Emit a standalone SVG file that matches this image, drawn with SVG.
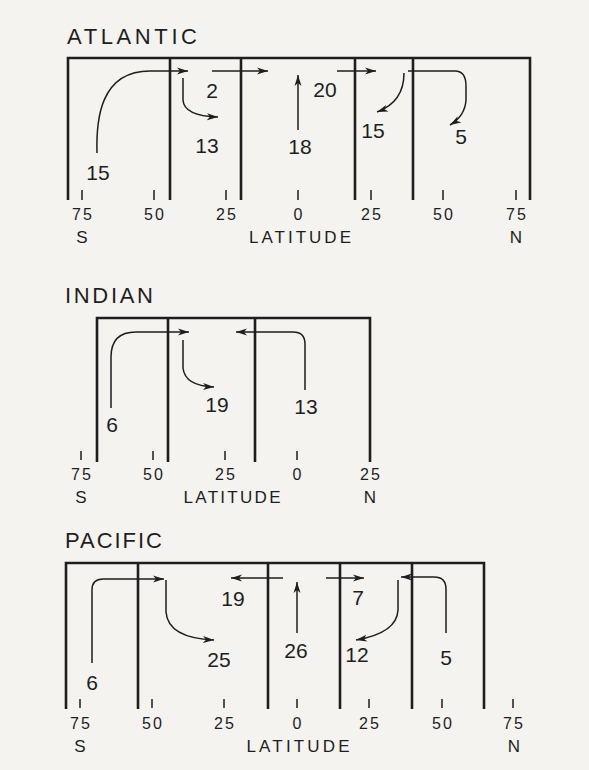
<svg xmlns="http://www.w3.org/2000/svg" width="589" height="770" viewBox="0 0 589 770">
<defs>
<marker id="ah" markerUnits="userSpaceOnUse" markerWidth="14" markerHeight="10" refX="11" refY="4" orient="auto">
<path d="M0,0.5 L11,4 L0,7.5 L3,4 Z" fill="#1e1e1e"/>
</marker>
</defs>
<style>
.bg{fill:#f4f3f0}
.fr{fill:none;stroke:#1e1e1e;stroke-width:2.6}
.tk{fill:none;stroke:#1e1e1e;stroke-width:1.5}
.ar{fill:none;stroke:#1e1e1e;stroke-width:1.5;marker-end:url(#ah)}
text{font-family:"Liberation Sans",Arial,sans-serif;fill:#1e1e1e}
.ti{font-size:22px}
.n{font-size:21px;text-anchor:middle}
.k{font-size:16px;text-anchor:middle;letter-spacing:2px}
.l{font-size:17px;text-anchor:middle}
</style>
<rect class="bg" x="0" y="0" width="589" height="770"/>

<g id="atlantic">
<text class="ti" x="67" y="44" textLength="130" lengthAdjust="spacing">ATLANTIC</text>
<path class="fr" d="M68,200 V58 H530 V200 M170,58 V200 M241,58 V200 M355,58 V200 M413,58 V200"/>
<path class="tk" d="M82,190 V200 M154,190 V200 M226,190 V200 M298,190 V200 M371,190 V200 M443,190 V200 M516,190 V200"/>
<g class="k">
<text x="83" y="220">75</text><text x="155" y="220">50</text><text x="227" y="220">25</text><text x="299" y="220">0</text><text x="372" y="220">25</text><text x="444" y="220">50</text><text x="517" y="220">75</text>
</g>
<text class="l" x="82" y="243">S</text>
<text class="l" x="300" y="243" textLength="102" lengthAdjust="spacing">LATITUDE</text>
<text class="l" x="516" y="243">N</text>
<g class="n">
<text x="98" y="180">15</text><text x="212" y="98">2</text><text x="207" y="153">13</text><text x="325" y="97">20</text><text x="300" y="154">18</text><text x="373" y="138">15</text><text x="461" y="144">5</text>
</g>
</g>

<g id="indian">
<text class="ti" x="65" y="303" textLength="88" lengthAdjust="spacing">INDIAN</text>
<path class="fr" d="M97,462 V318 H370 V462 M168,318 V462 M255,318 V462"/>
<path class="tk" d="M81,451 V460 M153,451 V460 M225,451 V460 M297,451 V460"/>
<g class="k">
<text x="82" y="480">75</text><text x="154" y="480">50</text><text x="226" y="480">25</text><text x="298" y="480">0</text><text x="371" y="480">25</text>
</g>
<text class="l" x="81" y="503">S</text>
<text class="l" x="232" y="503" textLength="97" lengthAdjust="spacing">LATITUDE</text>
<text class="l" x="370" y="503">N</text>
<g class="n">
<text x="112" y="432">6</text><text x="217" y="412">19</text><text x="306" y="414">13</text>
</g>
</g>

<g id="pacific">
<text class="ti" x="65" y="548" textLength="97" lengthAdjust="spacing">PACIFIC</text>
<path class="fr" d="M66,709 V563 H484 V709 M138,563 V709 M268,563 V709 M340,563 V709 M412,563 V709"/>
<path class="tk" d="M80,699 V708 M152,699 V708 M224,699 V708 M297,699 V708 M369,699 V708 M442,699 V708 M513,699 V708"/>
<g class="k">
<text x="81" y="729">75</text><text x="153" y="729">50</text><text x="225" y="729">25</text><text x="298" y="729">0</text><text x="370" y="729">25</text><text x="443" y="729">50</text><text x="514" y="729">75</text>
</g>
<text class="l" x="80" y="752">S</text>
<text class="l" x="298" y="752" textLength="103" lengthAdjust="spacing">LATITUDE</text>
<text class="l" x="514" y="752">N</text>
<g class="n">
<text x="92" y="690">6</text><text x="233" y="606">19</text><text x="358" y="605">7</text><text x="219" y="667">25</text><text x="296" y="658">26</text><text x="357" y="662">12</text><text x="446" y="665">5</text>
</g>
</g>

<g id="connectors">
<path class="ar" d="M97,153 C96,120 100,71 150,71 H188"/>
<path class="ar" d="M183,78 V100 Q184,116 218,117"/>
<path class="ar" d="M212,71 H268"/>
<path class="ar" d="M298,130 V75"/>
<path class="ar" d="M337,71 H376"/>
<path class="ar" d="M404,73 Q404,102 377,112"/>
<path class="ar" d="M408,71 H455 Q466,71 466,86 V100 Q465,116 450,125"/>

<path class="ar" d="M111,408 V357 Q111,332 136,332 H189"/>
<path class="ar" d="M183,340 V368 Q185,386 214,387"/>
<path class="ar" d="M305,390 V344 Q305,332 293,332 H236"/>

<path class="ar" d="M92,663 V590 Q92,579 103,579 H164"/>
<path class="ar" d="M166,580 V612 Q168,638 214,640"/>
<path class="ar" d="M283,578 H231"/>
<path class="ar" d="M297,633 V582"/>
<path class="ar" d="M326,578 H364"/>
<path class="ar" d="M398,580 V610 Q397,633 356,640"/>
<path class="ar" d="M446,633 V589 Q446,577 434,577 H401"/>
</g>
</svg>
